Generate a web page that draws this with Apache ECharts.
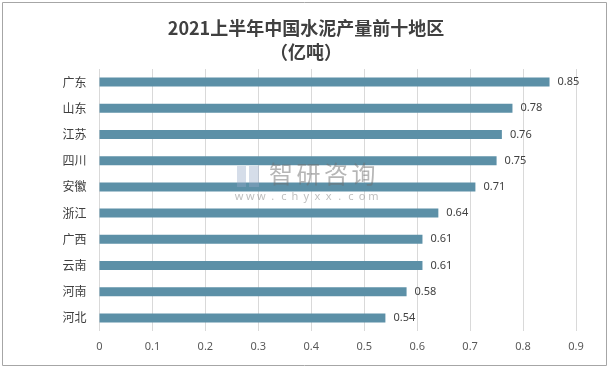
<!DOCTYPE html>
<html><head><meta charset="utf-8">
<script src="https://cdn.jsdelivr.net/npm/echarts@6/dist/echarts.min.js"></script>
<style>html,body{margin:0;padding:0;background:#fff}#c{width:612px;height:369px}</style>
</head><body><div id="c"></div>
<script>
const categories = ['广东','山东','江苏','四川','安徽','浙江','广西','云南','河南','河北'];
const values = [0.85,0.78,0.76,0.75,0.71,0.64,0.61,0.61,0.58,0.54];
const titleLines = ['2021上半年中国水泥产量前十地区','（亿吨）'];
const wmName = '智研咨询';
const wmUrl = 'www.chyxx.com';
const chart = echarts.init(document.getElementById('c'));
const graphics = [
  {type:'rect',shape:{x:2.5,y:2.5,width:604,height:363},style:{fill:'none',stroke:'#a6a6a6',lineWidth:1},z:-1},
  {type:'rect',shape:{x:237,y:166,width:9,height:21},style:{fill:'rgba(150,170,200,0.4)'},z:10},
  {type:'rect',shape:{x:249,y:166,width:10,height:21},style:{fill:'rgba(150,170,200,0.4)'},z:10}
];
wmName.split('').forEach((ch,i)=>graphics.push({type:'text',x:269+i*27.5,y:162,
  style:{text:ch,fill:'rgba(110,110,110,0.5)',fontSize:24,fontFamily:'Noto Sans CJK SC'},z:10}));
wmUrl.split('').forEach((ch,i)=>graphics.push({type:'text',x:239+i*11.2,y:191,
  style:{text:ch,fill:'rgba(130,130,130,0.5)',fontSize:11,fontFamily:'Noto Sans',align:'center'},z:10}));
chart.setOption({
  backgroundColor:'#fff',
  animation:false,
  title:{text:titleLines.join('\n'),left:'center',top:11,
    textStyle:{fontFamily:'Noto Sans CJK SC',fontSize:18,fontWeight:'bold',color:'#404040',lineHeight:24}},
  grid:{left:99.5,right:36,top:69,bottom:38,containLabel:false},
  xAxis:{type:'value',min:0,max:0.9,interval:0.1,
    axisLine:{show:false},axisTick:{show:false},
    axisLabel:{color:'#595959',fontSize:11,fontFamily:'Noto Sans',margin:10,formatter:v=>String(Math.round(v*10)/10)},
    splitLine:{lineStyle:{color:'#d9d9d9',width:1}}},
  yAxis:{type:'category',data:categories,inverse:true,
    axisLine:{show:false},axisTick:{show:false},
    axisLabel:{color:'#404040',fontSize:12,fontFamily:'Noto Sans CJK SC',margin:13}},
  series:[{type:'bar',data:values,barWidth:9,itemStyle:{color:'#5c90a7'},
    label:{show:true,position:'right',distance:8,color:'#404040',fontSize:11,fontFamily:'Noto Sans'}}],
  graphic:graphics
});
</script></body></html>
